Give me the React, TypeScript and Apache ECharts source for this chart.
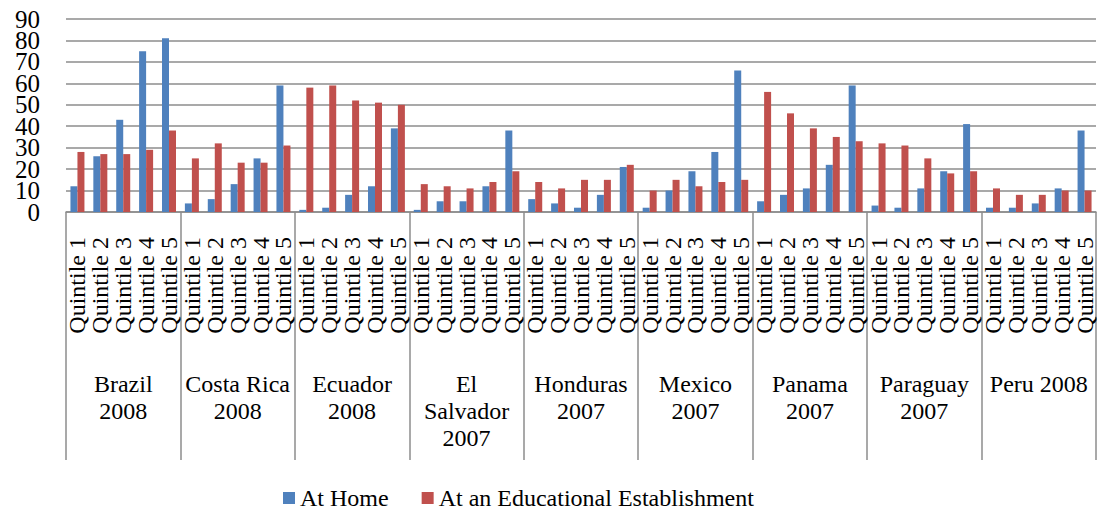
import React, { useEffect, useRef } from "react";
import * as echarts from "echarts";

const countryLabels = [
  "Brazil\n2008",
  "Costa Rica\n2008",
  "Ecuador\n2008",
  "El\nSalvador\n2007",
  "Honduras\n2007",
  "Mexico\n2007",
  "Panama\n2007",
  "Paraguay\n2007",
  "Peru 2008",
];
const quintiles = ["Quintile 1", "Quintile 2", "Quintile 3", "Quintile 4", "Quintile 5"];
const yTickLabels = ["0", "10", "20", "30", "40", "50", "60", "70", "80", "90"];
const yTicks = { min: 0, max: 90, interval: 10 };

const atHome = [
  12, 26, 43, 75, 81,
  4, 6, 13, 25, 59,
  1, 2, 8, 12, 39,
  1, 5, 5, 12, 38,
  6, 4, 2, 8, 21,
  2, 10, 19, 28, 66,
  5, 8, 11, 22, 59,
  3, 2, 11, 19, 41,
  2, 2, 4, 11, 38,
];
const atSchool = [
  28, 27, 27, 29, 38,
  25, 32, 23, 23, 31,
  58, 59, 52, 51, 50,
  13, 12, 11, 14, 19,
  14, 11, 15, 15, 22,
  10, 15, 12, 14, 15,
  56, 46, 39, 35, 33,
  32, 31, 25, 18, 19,
  11, 8, 8, 10, 10,
];

const seriesNames = ["At Home", "At an Educational Establishment"];
const colors = ["#4F81BD", "#C0504D"];

export default function App() {
  const ref = useRef<HTMLDivElement>(null);
  useEffect(() => {
    if (!ref.current) return;
    const chart = echarts.init(ref.current, null, { renderer: "svg" });
    const font = "Liberation Serif";
    const categories: string[] = [];
    countryLabels.forEach(() => quintiles.forEach((q) => categories.push(q)));
    const gridColor = "#8c8c8c";
    chart.setOption({
      animation: false,
      textStyle: { fontFamily: font },
      grid: { left: 66, right: 2, top: 19, bottom: 300, containLabel: false },
      legend: {
        left: 278,
        top: 481,
        itemWidth: 12,
        itemHeight: 12,
        itemGap: 33,
        icon: "rect",
        textStyle: { fontFamily: font, fontSize: 24, color: "#000" },
        data: seriesNames,
      },
      xAxis: [
        {
          type: "category",
          data: categories,
          position: "bottom",
          axisLine: { show: true, lineStyle: { color: gridColor, width: 1.5 } },
          axisTick: { show: false },
          axisLabel: {
            interval: 0,
            rotate: 90,
            margin: 25,
            fontFamily: font,
            fontSize: 24,
            color: "#000",
          },
        },
        {
          type: "category",
          data: countryLabels,
          position: "bottom",
          axisLine: { show: false },
          axisTick: { show: true, length: 248, interval: 0, lineStyle: { color: gridColor, width: 1.5 } },
          axisLabel: {
            interval: 0,
            margin: 158,
            fontFamily: font,
            fontSize: 24,
            lineHeight: 27,
            color: "#000",
            align: "center",
          },
        },
      ],
      yAxis: [
        {
          type: "value",
          min: yTicks.min,
          max: yTicks.max,
          interval: yTicks.interval,
          axisLine: { show: false },
          axisTick: { show: false },
          splitLine: { show: true, lineStyle: { color: gridColor, width: 1.5 } },
          axisLabel: { show: false },
        },
        {
          type: "category",
          data: yTickLabels,
          boundaryGap: false,
          position: "left",
          axisLine: { show: false },
          axisTick: { show: false },
          splitLine: { show: false },
          axisLabel: {
            interval: 0,
            margin: 26,
            fontFamily: font,
            fontSize: 25,
            lineHeight: 20,
            color: "#000",
          },
        },
      ],
      series: [
        {
          name: seriesNames[0],
          type: "bar",
          data: atHome,
          barWidth: 7,
          barGap: "0%",
          itemStyle: { color: colors[0] },
        },
        {
          name: seriesNames[1],
          type: "bar",
          data: atSchool,
          barWidth: 7,
          barGap: "0%",
          itemStyle: { color: colors[1] },
        },
      ],
    });
    return () => chart.dispose();
  }, []);
  return (
    <div
      ref={ref}
      style={{ position: "fixed", left: 0, top: 0, width: 1098, height: 512, background: "#fff" }}
    />
  );
}
